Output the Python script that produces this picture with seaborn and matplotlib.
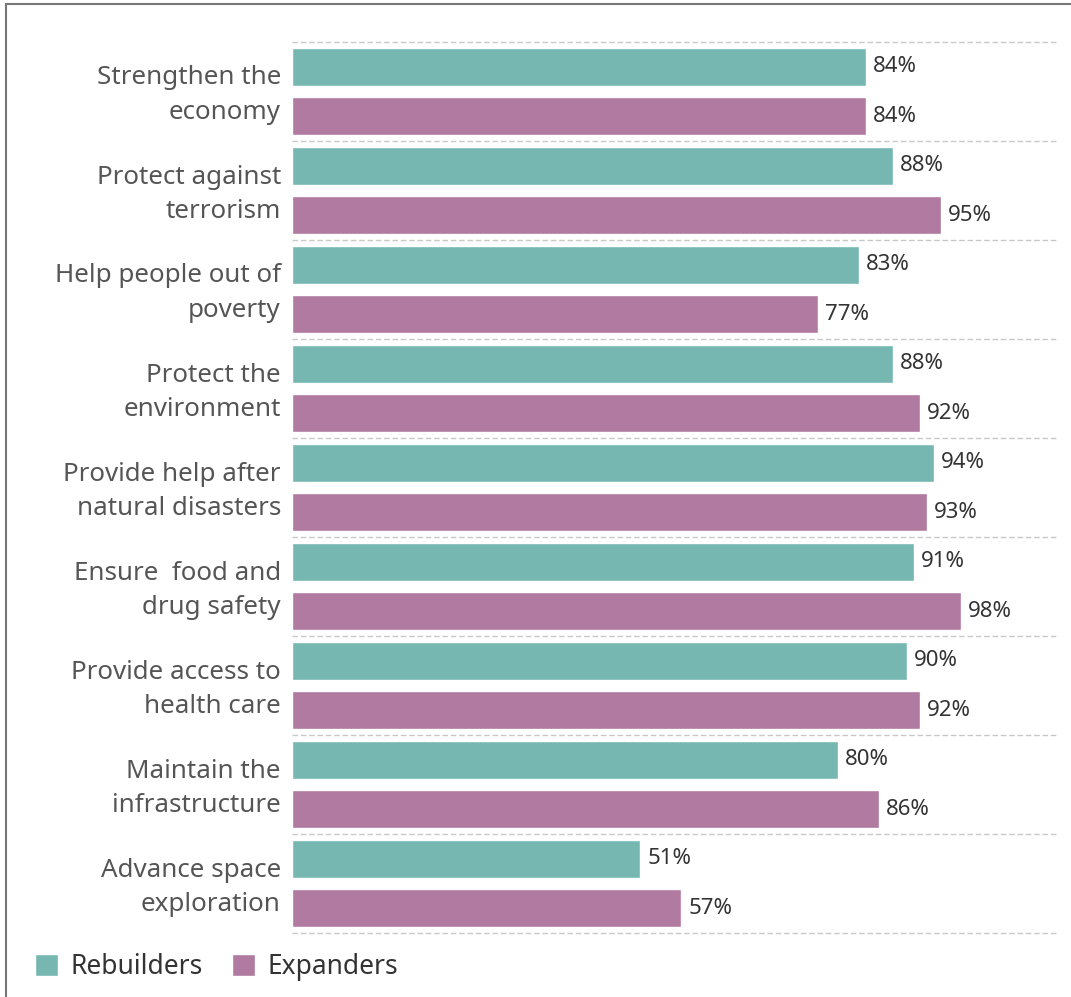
import numpy as np
import pandas as pd
import matplotlib
matplotlib.use("Agg")
import matplotlib.pyplot as plt
import matplotlib.transforms as mtransforms
from matplotlib.patches import Patch
from matplotlib.lines import Line2D
import seaborn as sns

# data
categories = ["Strengthen the\neconomy", "Protect against\nterrorism", "Help people out of\npoverty",
              "Protect the\nenvironment", "Provide help after\nnatural disasters", "Ensure  food and\ndrug safety",
              "Provide access to\nhealth care", "Maintain the\ninfrastructure", "Advance space\nexploration"]
rebuilders = [84, 88, 83, 88, 94, 91, 90, 80, 51]
expanders = [84, 95, 77, 92, 93, 98, 92, 86, 57]
groups = ["Rebuilders", "Expanders"]
colors = ["#76b7b2", "#b07aa1"]

df = pd.DataFrame({
    "category": categories * 2,
    "value": rebuilders + expanders,
    "group": [groups[0]] * len(categories) + [groups[1]] * len(categories),
})

sns.set_style("white")
plt.rcParams["font.family"] = ["Noto Sans", "DejaVu Sans"]

W, H = 1071, 997
fig = plt.figure(figsize=(W / 100, H / 100), dpi=100)
ax = fig.add_axes([292 / W, 1 - 933 / H, (1057 - 292) / W, (933 - 42) / H])

sns.barplot(data=df, x="value", y="category", hue="group", orient="h", palette=colors,
            saturation=1, width=0.99, gap=0.22, legend=False, ax=ax)

for c in ax.containers:
    ax.bar_label(c, fmt="{:.0f}%", padding=5, fontsize=16, color="#333333")

# dashed separators between groups
for yb in np.arange(-0.5, len(categories) + 0.5, 1):
    ax.axhline(yb, color="#c8c8c8", lw=1, ls=(0, (4, 2)), zorder=0, clip_on=False)

ax.set_xlim(0, 112)
ax.set_ylim(len(categories) - 0.5, -0.5)
ax.set_xlabel("")
ax.set_ylabel("")
ax.set_xticks([])
ax.tick_params(axis="y", length=0, pad=8, labelsize=18.7, labelcolor="#555555")
shift = mtransforms.ScaledTranslation(0, 4 / 100, fig.dpi_scale_trans)
for lab in ax.get_yticklabels():
    lab.set_linespacing(1.52)
    lab.set_transform(lab.get_transform() + shift)
for s in ax.spines.values():
    s.set_visible(False)

handles = [Patch(facecolor=col, label=g) for g, col in zip(groups, colors)]
fig.legend(handles=handles, loc="center left", bbox_to_anchor=(24 / W, 1 - 967 / H), ncol=2,
           frameon=False, borderaxespad=0, fontsize=19, labelcolor="#333333",
           handlelength=0.9, handleheight=0.9, handletextpad=0.45, columnspacing=1.1)

# frame on the left and top
fig.add_artist(Line2D([6 / W, 6 / W], [0, 1 - 4 / H], color="#777777", lw=1.5))
fig.add_artist(Line2D([6 / W, 1], [1 - 4 / H, 1 - 4 / H], color="#777777", lw=1.5))

fig.savefig("out.png", dpi=100)
